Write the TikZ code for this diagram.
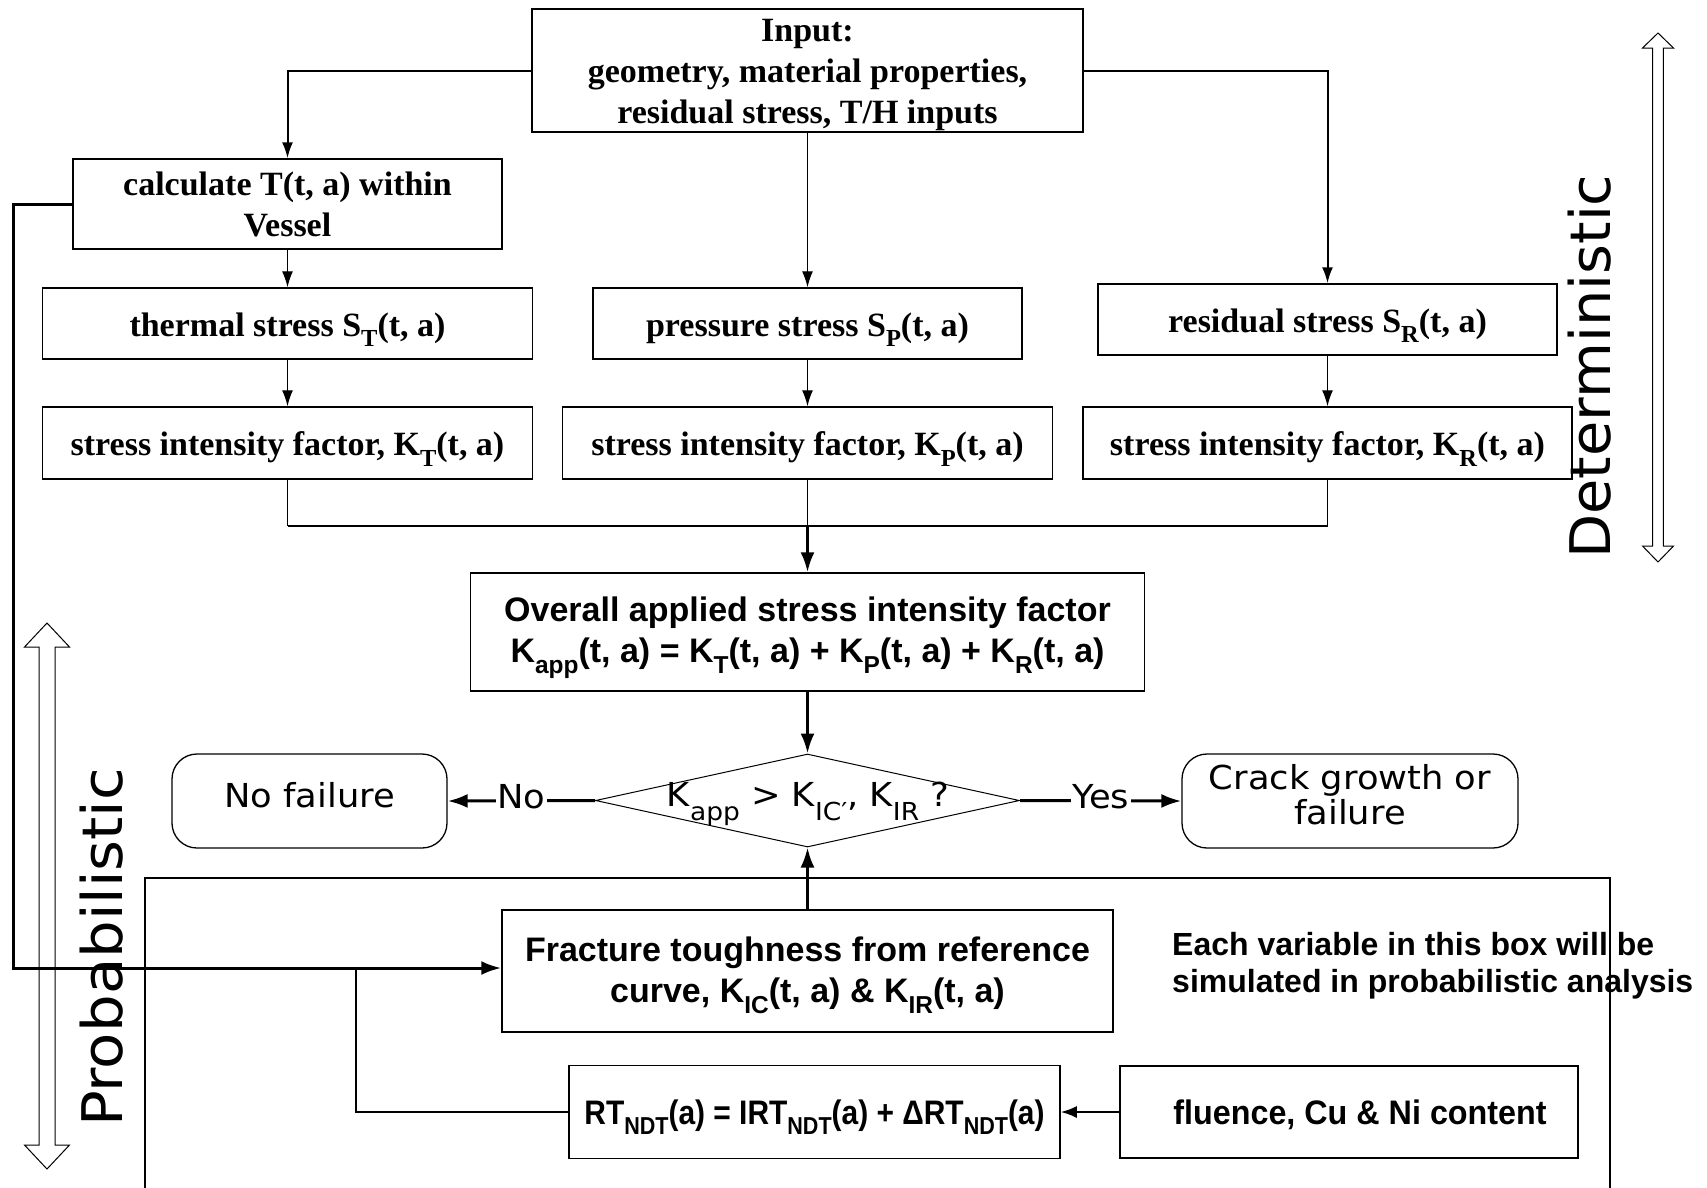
\documentclass[tikz,border=0pt]{standalone}
\usepackage{graphicx}
\usepackage{fontspec}
\setmainfont{Liberation Serif}
\newfontfamily\arialf{Liberation Sans}
\newfontfamily\arialn{Liberation Sans}[FakeStretch=0.88]
\newfontfamily\arialm{Liberation Sans}[FakeStretch=0.95]
\newfontfamily\thinf{DejaVu Sans}[FakeStretch=1.07]
\newfontfamily\detf{DejaVu Sans}[FakeStretch=1.025]
\newfontfamily\probf{DejaVu Sans}[FakeStretch=1.06]
\usetikzlibrary{arrows.meta,shapes.geometric}
\newcommand\lsub[1]{\raisebox{-0.32em}{\scalebox{0.72}{#1}}}
\newcommand\dsub[1]{\raisebox{-0.45em}{\scalebox{0.75}{#1}}}
\begin{document}
\begin{tikzpicture}[x=1pt,y=-1pt,
  box/.style={draw, line width=1.5pt, inner sep=0pt},
  stext/.style={inner sep=0pt, align=center, font=\fontsize{34}{41}\selectfont\bfseries},
  atext/.style={inner sep=0pt, align=center, font=\arialf\fontsize{34}{41}\selectfont\bfseries},
  roundbox/.style={draw, line width=1.3pt, rounded corners=25pt, inner sep=0pt},
  ttext/.style={inner sep=0pt, align=center, font=\thinf\fontsize{33}{35}\selectfont},
  thinarrow/.style={line width=1.3pt, -{Latex[length=16pt,width=11pt]}},
  medline/.style={line width=2pt},
  thickline/.style={line width=2.5pt},
  thickarrow/.style={line width=3pt, -{Latex[length=20pt,width=14pt]}},
  lbl/.style={fill=white, inner sep=1.5pt, yshift=4pt, font=\thinf\fontsize{33}{35}\selectfont},
  hollow/.style={line width=1pt},
  sidetext/.style={rotate=90, anchor=base, inner sep=0pt}
]
\useasboundingbox (0,0) rectangle (1707,1187);

% top boxes
\node[box, minimum width=551pt, minimum height=123pt] (in) at (807.5,70.5) {};
\node[stext] (inT) at ([yshift=-4pt]in.center) {Input:\\geometry, material properties,\\residual stress, T/H inputs};
\node[box, minimum width=429pt, minimum height=90pt] (calc) at (287.5,204) {};
\node[stext] (calcT) at (calc.center) {calculate T(t, a) within\\Vessel};
\node[box, minimum width=490pt, minimum height=71pt] (st) at (287.5,323.5) {};
\node[stext, anchor=base] (stT) at (287.5,336) {thermal stress S\lsub{T}(t, a)};
\node[box, minimum width=429pt, minimum height=71pt] (sp) at (807.5,323.5) {};
\node[stext, anchor=base] (spT) at (807.5,336) {pressure stress S\lsub{P}(t, a)};
\node[box, minimum width=459pt, minimum height=71pt] (sr) at (1327.5,319.5) {};
\node[stext, anchor=base] (srT) at (1327.5,332) {residual stress S\lsub{R}(t, a)};
\node[box, minimum width=490pt, minimum height=72pt] (kt) at (287.5,443) {};
\node[stext, anchor=base] (ktT) at (287.5,455.5) {stress intensity factor, K\lsub{T}(t, a)};
\node[box, minimum width=490pt, minimum height=72pt] (kp) at (807.5,443) {};
\node[stext, anchor=base] (kpT) at (807.5,455.5) {stress intensity factor, K\lsub{P}(t, a)};
\node[box, minimum width=489pt, minimum height=72pt] (kr) at (1327.5,443) {};
\node[stext, anchor=base] (krT) at (1327.5,455.5) {stress intensity factor, K\lsub{R}(t, a)};

% overall
\node[box, minimum width=674pt, minimum height=118pt] (ov) at (807.5,632) {};
\node[atext] (ovT) at ([yshift=-6pt]ov.center) {Overall applied stress intensity factor\\K\lsub{app}(t, a) = K\lsub{T}(t, a) + K\lsub{P}(t, a) + K\lsub{R}(t, a)};

% decision
\node[diamond, draw, line width=1pt, minimum width=424pt, minimum height=93pt, inner sep=0pt] (dia) at (807.5,800.5) {};
\node[ttext, anchor=base] (diaT) at (808,806) {K\dsub{app} > K\dsub{IC′}, K\dsub{IR} ?};
\node[roundbox, minimum width=275pt, minimum height=94pt] (nofail) at (309.5,801) {};
\node[ttext] (nofailT) at ([yshift=6pt]nofail.center) {No failure};
\node[roundbox, minimum width=336pt, minimum height=94pt] (crack) at (1350,801) {};
\node[ttext] (crackT) at ([yshift=6pt]crack.center) {Crack growth or\\failure};

% probabilistic box
\draw[thickline] (145,1195) -- (145,878) -- (1610,878) -- (1610,1195);
\node[box, minimum width=611pt, minimum height=122pt] (fr) at (807.5,971) {};
\node[atext] (frT) at ([yshift=-4pt]fr.center) {Fracture toughness from reference\\curve, K\lsub{IC}(t, a) \& K\lsub{IR}(t, a)};
\node[box, minimum width=491pt, minimum height=93pt] (rt) at (814.5,1112) {};
\node[atext, anchor=base, font=\arialn\fontsize{34}{41}\selectfont\bfseries] (rtT) at (814.5,1124) {RT\lsub{NDT}(a) = IRT\lsub{NDT}(a) + ΔRT\lsub{NDT}(a)};
\node[box, minimum width=458pt, minimum height=92pt] (flu) at (1349,1112) {};
\node[atext, anchor=base, font=\arialm\fontsize{34}{41}\selectfont\bfseries] (fluT) at (1360,1124) {fluence, Cu \& Ni content};
\node[anchor=west, align=left, inner sep=0pt, font=\arialf\bfseries\fontsize{32}{37}\selectfont] (ev) at (1172,965.5) {Each variable in this box will be\\simulated in probabilistic analysis};

% connectors top
\draw[medline, -{Latex[length=16pt,width=11pt]}] (in.west) -| (calc.north);
\draw[medline, -{Latex[length=16pt,width=11pt]}] (in.east) -| (sr.north);
\draw[thinarrow] (in.south) -- (sp.north);
\draw[thinarrow] (calc.south) -- (st.north);
\draw[thinarrow] (st.south) -- (kt.north);
\draw[thinarrow] (sp.south) -- (kp.north);
\draw[thinarrow] (sr.south) -- (kr.north);

% merge
\coordinate (m) at (807.5,526);
\coordinate (ml) at (287.5,526);
\coordinate (mr) at (1327.5,526);
\draw[line width=1.3pt] (kt.south) -- (ml);
\draw[line width=1.3pt] (kr.south) -- (mr);
\draw[line width=1.3pt] (kp.south) -- (m);
\draw[thickline] (ml) -- (mr);
\draw[thickarrow] (m) -- (ov.north);
\draw[thickarrow] (ov.south) -- (dia.north);

% decision outputs
\draw[thickarrow] (dia.west) -- node[lbl] (noL) {No} (nofail.east);
\draw[thickarrow] (dia.east) -- node[lbl] (yesL) {Yes} (crack.west);

% bottom connectors
\draw[thickarrow] (fr.north) -- (dia.south);
\coordinate (fb1) at (13,204);
\coordinate (fb2) at (13,968);
\coordinate (rj) at (356,968);
\draw[thickarrow] (calc.west) -- (fb1) -- (fb2) -- (fb2 -| fr.west);
\draw[thickline] (rt.west) -| (rj);
\draw[medline, -{Latex[length=16pt,width=12pt]}] (flu.west) -- (rt.east);

% side arrows
\draw[hollow] (1658,33) -- (1673.5,48) -- (1663.3,48) -- (1663.3,546) -- (1673.5,546) -- (1658,562) -- (1642.5,546) -- (1652.7,546) -- (1652.7,48) -- (1642.5,48) -- cycle;
\draw[hollow] (47,623) -- (69.5,647) -- (55,647) -- (55,1145) -- (69.5,1145) -- (47,1169) -- (24.5,1145) -- (39,1145) -- (39,647) -- (24.5,647) -- cycle;
\node[sidetext, font=\detf\fontsize{56}{56}\selectfont] (det) at (1610,366.5) {Deterministic};
\node[sidetext, font=\probf\fontsize{56}{56}\selectfont] (prob) at (122,947.5) {Probabilistic};
\end{tikzpicture}
\end{document}
